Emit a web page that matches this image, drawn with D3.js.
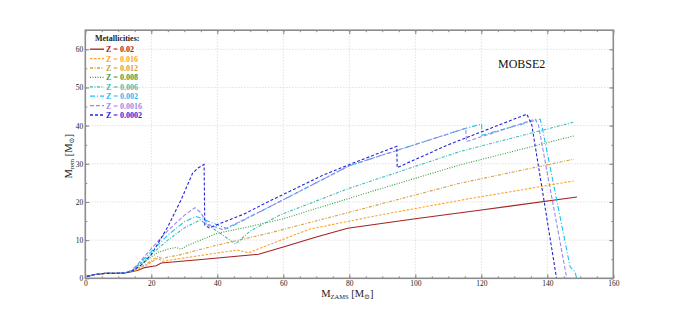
<!DOCTYPE html>
<html>
<head>
<meta charset="utf-8">
<script src="https://cdn.jsdelivr.net/npm/d3@7"></script>
<style>
  body { margin: 0; background: #fff; }
  text { font-family: "Liberation Serif", "DejaVu Serif", serif; }
</style>
</head>
<body>
<svg id="chart" width="682" height="310"></svg>
<script>
const xTicks = [0, 20, 40, 60, 80, 100, 120, 140, 160];
const yTicks = [0, 10, 20, 30, 40, 50, 60];
const labels = ['Z = 0.02', 'Z = 0.016', 'Z = 0.012', 'Z = 0.008', 'Z = 0.006', 'Z = 0.002', 'Z = 0.0016', 'Z = 0.0002'];

// [M_ZAMS, M_rem]
const z0200 = [[0.5,0.5],[3,1],[6,1.3],[9,1.3],[12,1.4],[14,1.7],[16,2.1],[18,2.8],[20,3.1],[21.5,3.3],[23,4.0],[36,5],[52.5,6.3],[60,8.2],[70,10.8],[79.5,13.1],[100,15.6],[120,17.9],[149,21.3]];
const z0160 = [[0.5,0.5],[3,1],[6,1.3],[9,1.3],[12,1.4],[14,1.8],[16,2.4],[18,3.2],[20,4.2],[22,5.3],[23.5,4.4],[25,4.7],[46,7.4],[49.5,6.7],[56,8.9],[68,12.9],[90,16.7],[116.6,20.9],[148,25.5]];
const z0120 = [[0.5,0.5],[3,1],[6,1.3],[9,1.3],[12,1.4],[14,1.8],[16,2.6],[18,3.5],[20,4.6],[22,5.8],[23.5,5.0],[25,5.6],[28,6.0],[40,8.7],[56,11.9],[80,17.3],[113.5,24.9],[148,31.2]];
const z0080 = [[0.5,0.5],[3,1],[6,1.3],[9,1.3],[12,1.4],[14,1.9],[16,3],[18,4.3],[20,5.6],[22,6.8],[25,7.6],[27.5,8.1],[29,7.6],[31,8.6],[40,11.8],[48,13.2],[60,15.6],[85,22.3],[113.5,29.7],[148,37.3]];
const z0060 = [[0.5,0.5],[3,1],[6,1.3],[9,1.3],[12,1.4],[14,2],[16,3.3],[18,4.8],[20,6.3],[25,10],[30,13.2],[34.8,15.3],[40,12.3],[45.5,9.0],[50,12.4],[59,16.6],[80,23.6],[113.5,33.2],[148,40.9]];
const z0020 = [[0.5,0.5],[3,1],[6,1.3],[9,1.3],[12,1.4],[14,2],[16,3.6],[18,5.3],[20,7],[25,11.3],[30,14.8],[33.5,16.2],[35,15.8],[38.5,14.5],[43,13],[56,18.8],[80,29.5],[115.3,39.3],[120.1,40.4],[120.2,37.5],[137.8,41.7],[138.3,40.2],[146.9,3],[148.4,1.7],[148.9,0]];
const z0016 = [[0.5,0.5],[3,1],[6,1.3],[9,1.3],[12,1.4],[14,2],[16,3.8],[18,5.8],[20,7.8],[25,12.5],[30,16.5],[33.2,18.5],[35,17.2],[37,14.2],[41.8,12.7],[56,18.8],[80,29.5],[115.3,39.3],[115.5,35.8],[136.3,41.7],[137.3,40.2],[145.9,0]];
const z0002 = [[0.5,0.5],[3,1],[6,1.3],[9,1.3],[12,1.4],[14,1.8],[17,3.5],[20,6.2],[25,13.5],[29,20.5],[32.5,27.5],[34,28.8],[36,29.8],[36.2,14],[37.5,13.2],[48,16.8],[56,20.3],[72,27],[80,29.8],[94.4,34.6],[94.5,29],[110,35],[133.8,43],[135.3,40.2],[142.8,0]];

const seriesData = [z0200, z0160, z0120, z0080, z0060, z0020, z0016, z0002];
const colors = ['#a52222', '#ffa42a', '#d2a040', '#3c9a3c', '#3cbcb4', '#1cc0f4', '#9a88ec', '#2424d8'];
const dashes = ['none', '2.5,1.5', '3,1.5,1,1.5', '1,1.5', '3,1.5,1,1.5', '5,2,1,2', '4,2', '3,2'];

const svg = d3.select('#chart');
const plot = { left: 85.3, right: 613.3, top: 30.2, bottom: 278.3 };

const x = d3.scaleLinear().domain([0, 160]).range([plot.left, plot.right]);
const y = d3.scaleLinear().domain([0, 65]).range([plot.bottom, plot.top]);

// grid
svg.append('g').selectAll('line')
    .data(xTicks.slice(1, -1))
    .enter().append('line')
    .attr('x1', d => x(d)).attr('x2', d => x(d))
    .attr('y1', plot.top).attr('y2', plot.bottom)
    .style('stroke', '#d0d0d0').style('stroke-dasharray', '1.2,1.8').style('stroke-width', 0.8);
svg.append('g').selectAll('line')
    .data(yTicks.slice(1))
    .enter().append('line')
    .attr('x1', plot.left).attr('x2', plot.right)
    .attr('y1', d => y(d)).attr('y2', d => y(d))
    .style('stroke', '#d0d0d0').style('stroke-dasharray', '1.2,1.8').style('stroke-width', 0.8);

// curves
const line = d3.line().x(d => x(d[0])).y(d => y(d[1]));
svg.append('g').selectAll('path')
    .data(seriesData)
    .enter().append('path')
    .attr('d', line)
    .style('fill', 'none')
    .style('stroke', (d, i) => colors[i])
    .style('stroke-dasharray', (d, i) => dashes[i])
    .style('stroke-width', 1.1);

// axes, ticks pointing inwards on all four sides
const xMinor = d3.range(0, 161, 5);
const yMinor = d3.range(0, 66, 5);
const tickStyle = g => {
    g.select('.domain').remove();
    g.selectAll('line').style('stroke', '#888');
};
svg.append('g').attr('transform', `translate(0,${plot.bottom})`)
    .call(d3.axisBottom(x).tickValues(xMinor).tickSize(-2).tickFormat(''))
    .call(tickStyle);
svg.append('g').attr('transform', `translate(0,${plot.top})`)
    .call(d3.axisTop(x).tickValues(xMinor).tickSize(-2).tickFormat(''))
    .call(tickStyle);
svg.append('g').attr('transform', `translate(${plot.left},0)`)
    .call(d3.axisLeft(y).tickValues(yMinor).tickSize(-2).tickFormat(''))
    .call(tickStyle);
svg.append('g').attr('transform', `translate(${plot.right},0)`)
    .call(d3.axisRight(y).tickValues(yMinor).tickSize(-2).tickFormat(''))
    .call(tickStyle);

const xAxis = svg.append('g').attr('transform', `translate(0,${plot.bottom})`)
    .call(d3.axisBottom(x).tickValues(xTicks).tickSize(-4).tickPadding(2.5))
    .call(tickStyle);
const yAxis = svg.append('g').attr('transform', `translate(${plot.left},0)`)
    .call(d3.axisLeft(y).tickValues(yTicks).tickSize(-4).tickPadding(2))
    .call(tickStyle);
svg.append('g').attr('transform', `translate(0,${plot.top})`)
    .call(d3.axisTop(x).tickValues(xTicks).tickSize(-4).tickFormat(''))
    .call(tickStyle);
svg.append('g').attr('transform', `translate(${plot.right},0)`)
    .call(d3.axisRight(y).tickValues(yTicks).tickSize(-4).tickFormat(''))
    .call(tickStyle);
[xAxis, yAxis].forEach(a => a.selectAll('text')
    .style('font-family', '"Liberation Serif", serif')
    .style('font-size', '7.5px')
    .style('fill', '#222'));

// frame
svg.append('rect')
    .attr('x', plot.left).attr('y', plot.top)
    .attr('width', plot.right - plot.left).attr('height', plot.bottom - plot.top)
    .style('fill', 'none').style('stroke', '#8c8c8c').style('stroke-width', 1.6);

// axis labels
const xl = svg.append('text')
    .attr('x', x(80) - 2).attr('y', 297)
    .attr('text-anchor', 'middle')
    .style('font-size', '10.5px').style('fill', '#222');
xl.append('tspan').text('M');
xl.append('tspan').attr('dy', 2).style('font-size', '6.5px').text('ZAMS');
xl.append('tspan').attr('dy', -2).text(' [M');
xl.append('tspan').attr('dy', 2).style('font-size', '7px').text('⊙');
xl.append('tspan').attr('dy', -2).text(']');

const yl = svg.append('text')
    .attr('transform', `translate(71.5,${y(32.5) + 2}) rotate(-90)`)
    .attr('text-anchor', 'middle')
    .style('font-size', '10.5px').style('fill', '#222');
yl.append('tspan').text('M');
yl.append('tspan').attr('dy', 2).style('font-size', '6.5px').text('rem');
yl.append('tspan').attr('dy', -2).text(' [M');
yl.append('tspan').attr('dy', 2).style('font-size', '7px').text('⊙');
yl.append('tspan').attr('dy', -2).text(']');

svg.append('text')
    .attr('x', 498).attr('y', 68)
    .style('font-size', '12px').style('fill', '#111')
    .text('MOBSE2');

// legend
const legend = svg.append('g').attr('transform', 'translate(90,41)');
legend.append('text')
    .attr('x', 5).attr('y', 0)
    .style('font-size', '8px').style('fill', '#222').style('font-weight', 'bold')
    .text('Metallicities:');
const item = legend.selectAll('.item')
    .data(labels)
    .enter().append('g')
    .attr('transform', (d, i) => `translate(0,${8.2 + i * 9.4})`);
item.append('line')
    .attr('x1', 0).attr('x2', 14)
    .style('stroke', (d, i) => colors[i])
    .style('stroke-dasharray', (d, i) => dashes[i])
    .style('stroke-width', 1.3);
item.append('text')
    .attr('x', 16).attr('y', 3)
    .style('font-size', '8px').style('font-weight', 'bold')
    .style('fill', (d, i) => colors[i])
    .text(d => d);
</script>
</body>
</html>
